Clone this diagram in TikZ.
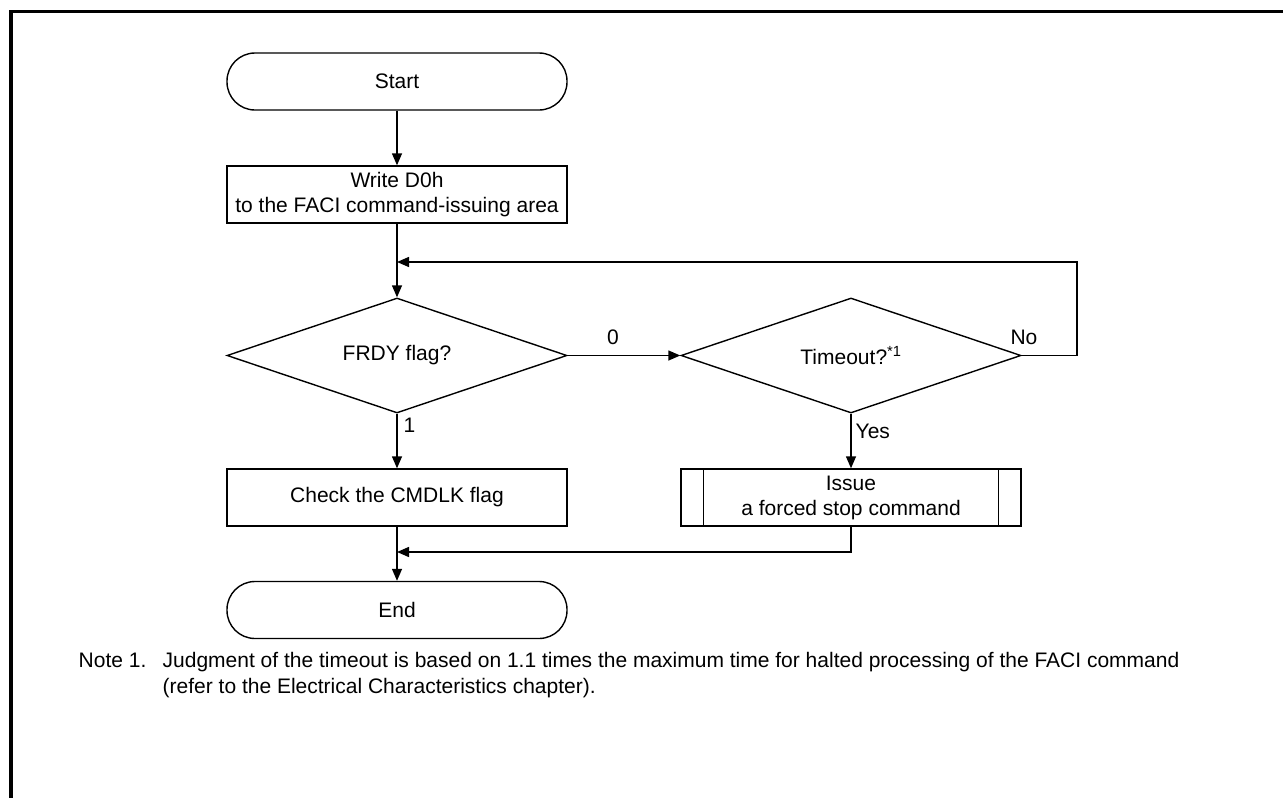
\documentclass[tikz,border=0pt]{standalone}
\usepackage{fontspec}
\setmainfont{Liberation Sans}
\usetikzlibrary{shapes.geometric,arrows.meta}
\begin{document}
\begin{tikzpicture}[x=1pt,y=-1pt,
  font=\fontsize{21}{25}\selectfont,
  line width=1.4pt,
  arr/.style={-{Triangle[length=12pt,width=10pt]}},
  term/.style={draw,rectangle,rounded corners=28pt,minimum width=340pt,minimum height=57pt,inner sep=0pt},
  proc/.style={draw,rectangle,minimum width=340pt,minimum height=57pt,inner sep=0pt,align=center},
  decis/.style={draw,diamond,aspect=2.96,minimum width=340pt,minimum height=115pt,inner sep=0pt},
  lbl/.style={inner sep=0pt}
]
\useasboundingbox (0,0) rectangle (1283,798);
% frame
\draw[line width=3.5pt] (11,798) -- (11,11.5) -- (1283,11.5);

% nodes
\node[term] (start) at (397,81.5) {Start};
\node[proc] (write) at (397,194.5) {Write D0h\\to the FACI command-issuing area};
\node[decis] (frdy) at (397,355.5) {FRDY flag?};
\node[decis] (timeout) at (851,355.5) {Timeout?\textsuperscript{*1}};
\node[proc] (check) at (397,497.5) {Check the CMDLK flag};
\node[proc] (issue) at (851,497.5) {Issue\\a forced stop command};
\draw ([xshift=23pt]issue.north west) -- ([xshift=23pt]issue.south west);
\draw ([xshift=-23pt]issue.north east) -- ([xshift=-23pt]issue.south east);
\node[term] (end) at (397,610) {End};

% coordinates
\coordinate (j1) at (397,262);
\coordinate (jr) at (1077,262);
\coordinate (j2) at (397,552);

% connectors
\draw[arr] (start) -- (write);
\draw[arr] (write.south) -- (frdy.north);
\draw[arr] (frdy.east) -- (timeout.west);
\draw[arr] (timeout.east) -| (jr) -- (j1);
\draw[arr] (frdy.south) -- (check.north);
\draw[arr] (timeout.south) -- (issue.north);
\draw[arr] (check.south) -- (end.north);
\draw[arr] (issue.south) |- (j2);

% labels
\node[lbl] (l0) at (613,337) {0};
\node[lbl] (lno) at (1024,337) {No};
\node[lbl,anchor=west] (l1) at (403,425) {1};
\node[lbl,anchor=west] (lyes) at (855,431) {Yes};

% note
\node[lbl,anchor=base west] (note) at (78,667) {Note 1.};
\node[lbl,anchor=base west] (notea) at (162,667) {Judgment of the timeout is based on 1.1 times the maximum time for halted processing of the FACI command};
\node[lbl,anchor=base west] (noteb) at (162,693) {(refer to the Electrical Characteristics chapter).};
\end{tikzpicture}
\end{document}
